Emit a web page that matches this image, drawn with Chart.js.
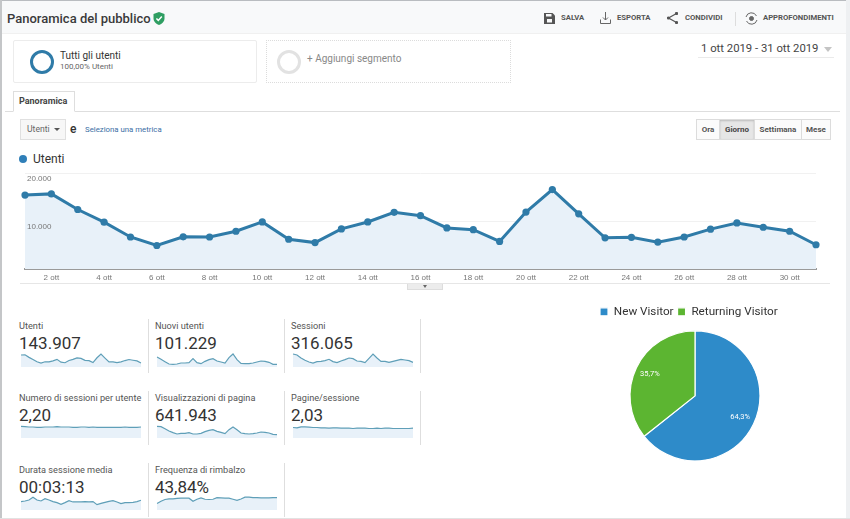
<!DOCTYPE html>
<html>
<head>
<meta charset="utf-8">
<title>Panoramica del pubblico</title>
<script src="https://cdn.jsdelivr.net/npm/chart.js@4"></script>
<style>
  html, body { margin: 0; padding: 0; background: #fff; }
  body { width: 850px; height: 519px; position: relative; overflow: hidden; font-family: Roboto, sans-serif; color: #333; }
  #page div, #page span, #page canvas, #page svg { position: absolute; }
  .t { white-space: nowrap; line-height: 1; }
  .act { font-size: 7.7px; font-weight: 700; color: #555; top: 14px; }
  .btn { top: 119px; height: 21px; border: 1px solid #dcdcdc; box-sizing: border-box; background: #fbfbfb; font-size: 8px; font-weight: 700; color: #555; text-align: center; line-height: 20px; }
  .lab { font-size: 9.2px; color: #555; white-space: nowrap; line-height: 1; }
  .val { font-size: 17px; color: #333; white-space: nowrap; line-height: 1; }
  .sep { width: 1px; background: #dedede; }
</style>
</head>
<body>
<div id="page">
  <!-- cornice e intestazione -->
  <div style="left:0;top:0;width:850px;height:33px;background:#f8f9fa;border-bottom:1px solid #f0f0f0"></div>
  <div style="left:0;top:0;width:850px;height:1px;background:#b9bcc0"></div>
  <div style="left:0;top:0;width:2px;height:519px;background:#c4c6c8"></div>
  <div style="left:846px;top:0;width:4px;height:519px;background:#eef0f2"></div>
  <div style="left:0;top:518px;width:850px;height:1px;background:#e2e2e2"></div>

  <div class="t" style="left:7px;top:12px;font-size:13px;font-weight:500;color:#3a3a3a">Panoramica del pubblico</div>
  <svg style="left:153px;top:12px" width="12" height="13" viewBox="0 0 12 13">
    <path d="M6 0 L11.5 2 V6.5 C11.5 9.5 9 12 6 13 C3 12 .5 9.5 .5 6.5 V2 Z" fill="#2f9e62"/>
    <path d="M3.4 6.5 L5.3 8.4 L8.8 4.6" stroke="#fff" stroke-width="1.5" fill="none"/>
  </svg>

  <svg style="left:544px;top:13px" width="11" height="11" viewBox="0 0 11 11">
    <path d="M0 0 H8.5 L11 2.5 V11 H0 Z" fill="#555"/><rect x="2" y="1" width="5.5" height="2.5" fill="#f8f9fa"/><rect x="3" y="6" width="5" height="3.5" fill="#f8f9fa"/>
  </svg>
  <div class="t act" style="left:561px">SALVA</div>
  <svg style="left:600px;top:12px" width="11" height="12" viewBox="0 0 11 12" fill="none" stroke="#666" stroke-width="1">
    <path d="M5.5 0 V8 M3 5.5 L5.5 8 L8 5.5 M.5 7.5 V11.5 H10.5 V7.5"/>
  </svg>
  <div class="t act" style="left:617px">ESPORTA</div>
  <svg style="left:667px;top:12px" width="11" height="12" viewBox="0 0 11 12" fill="none" stroke="#555" stroke-width="1.2">
    <path d="M9.5 1.5 L1.5 6 L9.5 10.5"/><circle cx="9.5" cy="1.5" r="1" fill="#555"/><circle cx="1.5" cy="6" r="1" fill="#555"/><circle cx="9.5" cy="10.5" r="1" fill="#555"/>
  </svg>
  <div class="t act" style="left:685px">CONDIVIDI</div>
  <div style="left:735px;top:12px;width:1px;height:14px;background:#ddd"></div>
  <svg style="left:745px;top:12px" width="13" height="13" viewBox="0 0 13 13" fill="none" stroke="#666" stroke-width="1">
    <path d="M1 5 A5.6 5.6 0 0 1 11.5 4 M12 8 A5.6 5.6 0 0 1 1.5 9"/><circle cx="6.5" cy="6.5" r="2" fill="#666"/>
  </svg>
  <div class="t act" style="left:763px">APPROFONDIMENTI</div>

  <!-- segmenti -->
  <div style="left:13px;top:40px;width:244px;height:43px;border:1px solid #ececec;box-sizing:border-box;border-radius:2px"></div>
  <div style="left:30px;top:50px;width:24px;height:24px;border:3.5px solid #2f7ba8;box-sizing:border-box;border-radius:50%"></div>
  <div class="t" style="left:60px;top:51px;font-size:10px;color:#333">Tutti gli utenti</div>
  <div class="t" style="left:60px;top:63px;font-size:8px;color:#666">100,00% Utenti</div>
  <div style="left:266px;top:40px;width:245px;height:43px;border:1px dotted #dcdcdc;box-sizing:border-box"></div>
  <div style="left:277px;top:50px;width:24px;height:24px;border:3px solid #e2e2e2;box-sizing:border-box;border-radius:50%"></div>
  <div class="t" style="left:307px;top:54px;font-size:10px;color:#888">+ Aggiungi segmento</div>

  <div class="t" style="left:701px;top:43px;font-size:11.3px;color:#444">1 ott 2019 - 31 ott 2019</div>
  <div style="left:824px;top:47px;width:0;height:0;border-left:4.5px solid transparent;border-right:4.5px solid transparent;border-top:5px solid #c4c4c4"></div>
  <div style="left:698px;top:57px;width:136px;height:1px;background:#eaeaea"></div>

  <!-- scheda -->
  <div style="left:5px;top:111px;width:835px;height:1px;background:#dedede"></div>
  <div style="left:13px;top:91px;width:62px;height:21px;border:1px solid #dedede;border-bottom:1px solid #fff;box-sizing:border-box;background:#fff"></div>
  <div class="t" style="left:19px;top:97px;font-size:9px;font-weight:700;color:#444">Panoramica</div>

  <div style="left:20px;top:119px;width:46px;height:21px;border:1px solid #e0e0e0;box-sizing:border-box;background:#f7f7f7"></div>
  <div class="t" style="left:27px;top:125px;font-size:8.6px;color:#666">Utenti</div>
  <div style="left:54px;top:128px;width:0;height:0;border-left:3px solid transparent;border-right:3px solid transparent;border-top:3px solid #555"></div>
  <div class="t" style="left:70px;top:123px;font-size:12px;font-weight:500;color:#333">e</div>
  <div class="t" style="left:85px;top:125.5px;font-size:7.8px;color:#3b6ea5">Seleziona una metrica</div>

  <div class="btn" style="left:696px;width:24px">Ora</div>
  <div class="btn" style="left:719px;width:36px;background:#e6e6e6;box-shadow:inset 0 1px 2px #bbb;color:#444">Giorno</div>
  <div class="btn" style="left:754px;width:48px">Settimana</div>
  <div class="btn" style="left:801px;width:30px">Mese</div>

  <div style="left:19px;top:155px;width:8px;height:8px;border-radius:50%;background:#2f7fb8"></div>
  <div class="t" style="left:33px;top:153px;font-size:12px;color:#333">Utenti</div>

  <canvas id="main-chart" width="815" height="119" style="left:15px;top:165px"></canvas>
  <div style="left:20px;top:283px;width:810px;height:1px;background:#e6e6e6"></div>
  <div style="left:407px;top:284px;width:36px;height:6px;background:#ececec;border:1px solid #ddd;border-top:0;box-sizing:border-box"></div>
  <div style="left:423px;top:285px;width:0;height:0;border-left:2.5px solid transparent;border-right:2.5px solid transparent;border-top:3px solid #666"></div>

  <div id="tiles"></div>
  <canvas id="pie-chart" width="198" height="162" style="left:596px;top:302px"></canvas>
</div>

<script>
const days = ['1 ott', '2 ott', '3 ott', '4 ott', '5 ott', '6 ott', '7 ott', '8 ott', '9 ott', '10 ott', '11 ott', '12 ott', '13 ott', '14 ott', '15 ott', '16 ott', '17 ott', '18 ott', '19 ott', '20 ott', '21 ott', '22 ott', '23 ott', '24 ott', '25 ott', '26 ott', '27 ott', '28 ott', '29 ott', '30 ott', '31 ott'];

const utenti = [15400, 15650, 12400, 9750, 6670, 4900, 6700, 6670, 7860, 9800, 6200, 5500, 8350, 9800, 11800, 11100, 8560, 8200, 5750, 11850, 16550, 11500, 6500, 6600, 5600, 6670, 8300, 9600, 8700, 7860, 5050];
const nuoviUtenti = [7500, 5750, 4000, 2250, 2000, 2250, 3000, 3000, 3250, 6250, 3250, 2500, 4250, 5500, 6250, 4500, 3750, 3000, 7000, 9750, 5500, 2750, 2500, 2500, 3000, 3750, 4500, 4250, 3500, 2000, 2000];
const sessioni = [18900, 17500, 13100, 9700, 7300, 5800, 7800, 8200, 9200, 11200, 7800, 6300, 8700, 10700, 13100, 12100, 8700, 8200, 6300, 12600, 18900, 13100, 8200, 8200, 6800, 8200, 9700, 11200, 10200, 9200, 6800];
const sessioniPerUtente = [2.33, 2.27, 2.2, 2.2, 2.13, 2.13, 2.2, 2.2, 2.2, 2.27, 2.2, 2.2, 2.2, 2.13, 2.13, 2.2, 2.2, 2.13, 2.2, 2.13, 2.13, 2.13, 2.13, 2.13, 2.13, 2.13, 2.2, 2.13, 2.13, 2.13, 2.2];
const visualizzazioni = [40250, 39100, 32200, 24150, 18400, 13800, 16100, 16100, 18400, 13800, 13800, 16100, 21850, 26450, 28750, 23000, 19550, 14950, 28750, 37950, 28750, 17250, 14950, 13800, 14950, 17250, 20700, 19550, 17250, 12650, 11500];
const paginePerSessione = [2.1, 2.03, 2.23, 2.23, 2.16, 2.1, 2.1, 2.03, 2.03, 1.97, 2.03, 2.03, 1.97, 1.97, 1.97, 1.9, 1.97, 1.97, 1.97, 1.9, 1.9, 1.97, 1.9, 1.97, 1.97, 1.9, 1.9, 1.9, 1.9, 1.9, 1.97];
const durata = [185, 200, 222, 281, 222, 200, 252, 222, 185, 163, 126, 163, 207, 178, 178, 178, 185, 178, 185, 118, 148, 170, 192, 207, 178, 141, 163, 163, 170, 185, 215];
const rimbalzo = [24, 32.5, 39, 41, 41, 43, 44, 44, 44, 32.5, 40, 45, 40, 39, 40, 46, 45, 44, 44, 40, 36, 41, 47.5, 47.5, 46, 46, 45, 45, 45, 46, 46];

const tileNames = ['Utenti', 'Nuovi utenti', 'Sessioni', 'Numero di sessioni per utente', 'Visualizzazioni di pagina', 'Pagine/sessione', 'Durata sessione media', 'Frequenza di rimbalzo'];
const tileValues = ['143.907', '101.229', '316.065', '2,20', '641.943', '2,03', '00:03:13', '43,84%'];
const tileSeries = [utenti, nuoviUtenti, sessioni, sessioniPerUtente, visualizzazioni, paginePerSessione, durata, rimbalzo];
const tileMax = [18000, 10500, 20370, 2.8, 48300, 2.8, 310, 52];

const pieLabels = ['New Visitor', 'Returning Visitor'];
const pieValues = [64.3, 35.7];
const pieColors = ['#2e8bc9', '#5cb531'];

Chart.defaults.font.family = 'Roboto, sans-serif';
Chart.defaults.animation = false;
Chart.defaults.plugins.tooltip.enabled = false;

new Chart(document.getElementById('main-chart'), {
  type: 'line',
  data: {
    labels: days,
    datasets: [{
      data: utenti,
      borderColor: '#2f7ba8',
      borderWidth: 3,
      tension: 0,
      fill: true,
      backgroundColor: '#e8f1f9',
      pointRadius: 3.6,
      pointBackgroundColor: '#2f7ba8',
      pointBorderWidth: 0
    }]
  },
  options: {
    responsive: false,
    layout: { padding: { left: 6, right: 14, top: 8 } },
    plugins: { legend: { display: false } },
    scales: {
      x: {
        offset: false,
        afterFit: (scale) => { scale.height = 15; },
        grid: { display: false, drawTicks: false },
        border: { color: '#9a9a9a', width: 2 },
        ticks: {
          autoSkip: false,
          maxRotation: 0,
          padding: 4,
          color: '#777',
          font: { family: 'Liberation Sans', size: 8 },
          callback: function (value, index) { return index % 2 === 1 ? this.getLabelForValue(value) : ''; }
        }
      },
      y: {
        min: 0,
        max: 20000,
        border: { display: false },
        grid: { color: '#f1f1f1', drawTicks: false },
        ticks: {
          z: 1,
          mirror: true,
          align: 'start',
          autoSkip: false,
          padding: 2,
          labelOffset: 2,
          stepSize: 10000,
          color: '#777',
          font: { family: 'Liberation Sans', size: 8 },
          callback: (value) => value === 0 ? '' : String(value).replace(/(\d{3})$/, '.$1')
        }
      }
    }
  }
});

// riquadri delle metriche
const tiles = document.getElementById('tiles');
const colX = [19, 155, 291];
const sparkX = [20, 156, 292];
const rowLabelY = [321, 393, 465];
const rowValueY = [335, 407, 479];
const rowSparkY = [353, 424, 496];

tileNames.forEach((name, i) => {
  const col = i % 3;
  const row = Math.floor(i / 3);

  const lab = document.createElement('div');
  lab.className = 'lab';
  lab.style.left = colX[col] + 'px';
  lab.style.top = rowLabelY[row] + 'px';
  lab.textContent = name;
  tiles.appendChild(lab);

  const val = document.createElement('div');
  val.className = 'val';
  val.style.left = colX[col] + 'px';
  val.style.top = rowValueY[row] + 'px';
  val.textContent = tileValues[i];
  tiles.appendChild(val);

  const cv = document.createElement('canvas');
  cv.width = 122;
  cv.height = 14;
  cv.style.left = sparkX[col] + 'px';
  cv.style.top = rowSparkY[row] + 'px';
  tiles.appendChild(cv);

  new Chart(cv, {
    type: 'line',
    data: {
      labels: days,
      datasets: [{
        data: tileSeries[i],
        borderColor: '#5f9fb8',
        borderWidth: 1.2,
        tension: 0,
        fill: true,
        backgroundColor: '#e8f1f9',
        pointRadius: 0
      }]
    },
    options: {
      responsive: false,
      layout: { padding: { left: 1, right: 1 } },
      plugins: { legend: { display: false } },
      scales: {
        x: { display: false, offset: false },
        y: { display: false, min: 0, max: tileMax[i] }
      }
    }
  });
});

[148, 284, 420].forEach((x) => {
  [[319, 54], [391, 54], [463, 54]].forEach((r, row) => {
    if (row === 2 && x === 420) return;
    const s = document.createElement('div');
    s.className = 'sep';
    s.style.left = x + 'px';
    s.style.top = r[0] + 'px';
    s.style.height = r[1] + 'px';
    tiles.appendChild(s);
  });
});

// percentuali sulle fette
const sliceLabels = {
  id: 'sliceLabels',
  afterDatasetsDraw(chart) {
    const ctx = chart.ctx;
    chart.getDatasetMeta(0).data.forEach((arc, i) => {
      const p = arc.getProps(['x', 'y', 'startAngle', 'endAngle', 'outerRadius']);
      const mid = (p.startAngle + p.endAngle) / 2;
      const r = p.outerRadius * 0.77;
      ctx.save();
      ctx.fillStyle = '#fff';
      ctx.font = '7.5px Roboto';
      ctx.textAlign = 'center';
      ctx.textBaseline = 'middle';
      ctx.fillText(pieValues[i].toFixed(1).replace('.', ',') + '%', p.x + Math.cos(mid) * r, p.y + Math.sin(mid) * r);
      ctx.restore();
    });
  }
};

new Chart(document.getElementById('pie-chart'), {
  type: 'pie',
  data: {
    labels: pieLabels,
    datasets: [{
      data: pieValues,
      backgroundColor: pieColors,
      borderColor: '#fff',
      borderWidth: 1.2,
      radius: 65
    }]
  },
  options: {
    responsive: false,
    layout: { padding: 0 },
    plugins: {
      legend: {
        position: 'top',
        align: 'start',
        labels: { boxWidth: 8, boxHeight: 8, padding: 4, color: '#333', font: { size: 11.7 } }
      }
    }
  },
  plugins: [sliceLabels]
});
</script>
</body>
</html>
